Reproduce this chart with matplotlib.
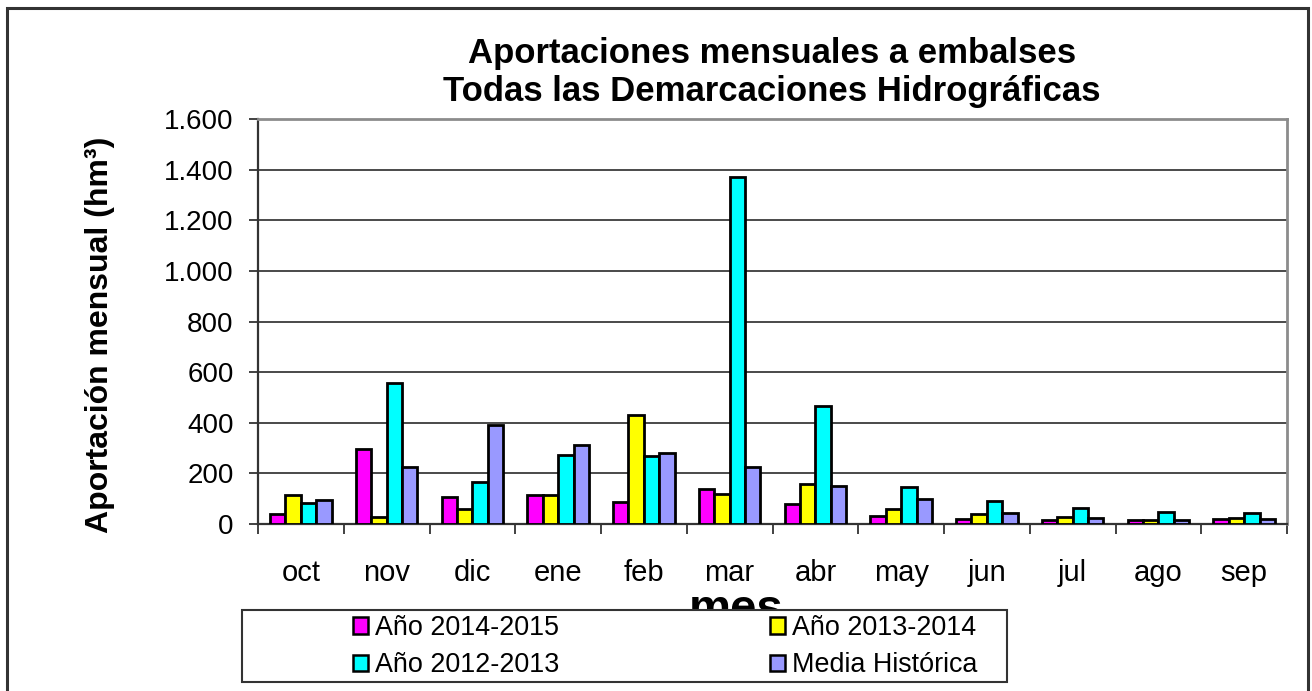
"""Aportaciones mensuales a embalses - todas las demarcaciones hidrográficas."""

import matplotlib

matplotlib.use("Agg")
import matplotlib.pyplot as plt
import numpy as np
from matplotlib.patches import Patch, Rectangle
from matplotlib.ticker import FixedLocator, FuncFormatter

plt.rcParams["font.family"] = ["Liberation Sans", "DejaVu Sans"]

# ---- data (hm3) -----------------------------------------------------------
meses = ["oct", "nov", "dic", "ene", "feb", "mar", "abr", "may", "jun", "jul", "ago", "sep"]
anio_2014_2015 = [38, 296, 105, 114, 87, 138, 78, 30, 21, 16, 15, 20]
anio_2013_2014 = [116, 26, 58, 114, 430, 120, 159, 60, 39, 27, 17, 24]
anio_2012_2013 = [82, 559, 166, 274, 267, 1370, 468, 145, 90, 62, 46, 44]
media_historica = [93, 225, 392, 314, 282, 225, 149, 99, 43, 25, 16, 21]

series = [
    ("Año 2014-2015", anio_2014_2015, "#ff00ff"),
    ("Año 2013-2014", anio_2013_2014, "#ffff00"),
    ("Año 2012-2013", anio_2012_2013, "#00ffff"),
    ("Media Histórica", media_historica, "#9999ff"),
]

W, H = 1312, 691
fig = plt.figure(figsize=(W / 100, H / 100), dpi=100)
ax = fig.add_axes([258 / W, 1 - 524 / H, (1287 - 258) / W, (524 - 119) / H])

x = np.arange(len(meses))
bw = 0.18
for k, (label, vals, color) in enumerate(series):
    ax.bar(x + (k - 1.5) * bw, vals, width=bw, color=color,
           edgecolor="black", linewidth=2.0, zorder=3)

ax.set_xlim(-0.5, len(meses) - 0.5)
ax.set_ylim(0, 1600)
ax.set_yticks(np.arange(0, 1601, 200))
ax.yaxis.set_major_formatter(FuncFormatter(lambda v, _: f"{v:,.0f}".replace(",", ".")))
ax.yaxis.grid(True, color="#3c3c3c", linewidth=1.3, zorder=0)
ax.set_axisbelow(True)

ax.set_xticks(x)
ax.set_xticklabels(meses)
ax.xaxis.set_minor_locator(FixedLocator(np.arange(-0.5, len(meses), 1.0)))
ax.tick_params(axis="x", which="major", length=0, pad=25, labelsize=21)
ax.tick_params(axis="x", which="minor", length=7, width=1.3, direction="out", color="#333333")
ax.tick_params(axis="y", length=6.5, width=1.3, direction="out", color="#333333",
               pad=11, labelsize=20)

for side in ("left", "bottom"):
    ax.spines[side].set_color("#333333")
    ax.spines[side].set_linewidth(1.6)
for side in ("top", "right"):
    ax.spines[side].set_color("#8c8c8c")
    ax.spines[side].set_linewidth(2)

# titles and axis labels
fig.text(772 / W, 1 - 37 / H,
         "Aportaciones mensuales a embalses\nTodas las Demarcaciones Hidrográficas",
         ha="center", va="top", fontsize=25, fontweight="bold", linespacing=1.18)
fig.text(100 / W, 1 - 335 / H, "Aportación mensual (hm³)", rotation=90,
         ha="center", va="center", fontsize=23, fontweight="bold")
fig.text(736 / W, 1 - 588 / H, "mes", ha="center", va="top",
         fontsize=34, fontweight="bold", zorder=1)

# legend box (white, covers the bottom of "mes")
fig.patches.append(Rectangle((242 / W, 1 - 682 / H), (1007 - 242) / W, (682 - 610) / H,
                             transform=fig.transFigure, facecolor="white",
                             edgecolor="#333333", linewidth=1.5, zorder=5))
order = [0, 2, 1, 3]
handles = [Patch(facecolor=series[i][2], edgecolor="black", linewidth=1.8) for i in order]
labels = [series[i][0] for i in order]
leg = fig.legend(handles, labels, ncol=2, loc="upper left",
                 bbox_to_anchor=(353 / W, 1 - 615 / H), frameon=False,
                 borderpad=0, borderaxespad=0, fontsize=19.4, handlelength=0.55,
                 handleheight=0.55, handletextpad=0.25, columnspacing=7.85,
                 labelspacing=0.42)
leg.set_zorder(6)

# outer chart border
fig.patches.append(Rectangle((7 / W, -0.05), (1308 - 7) / W, 1.05 - 8 / H,
                             transform=fig.transFigure, facecolor="none",
                             edgecolor="#333333", linewidth=2.2, zorder=7))

fig.savefig("out.png", dpi=100)
